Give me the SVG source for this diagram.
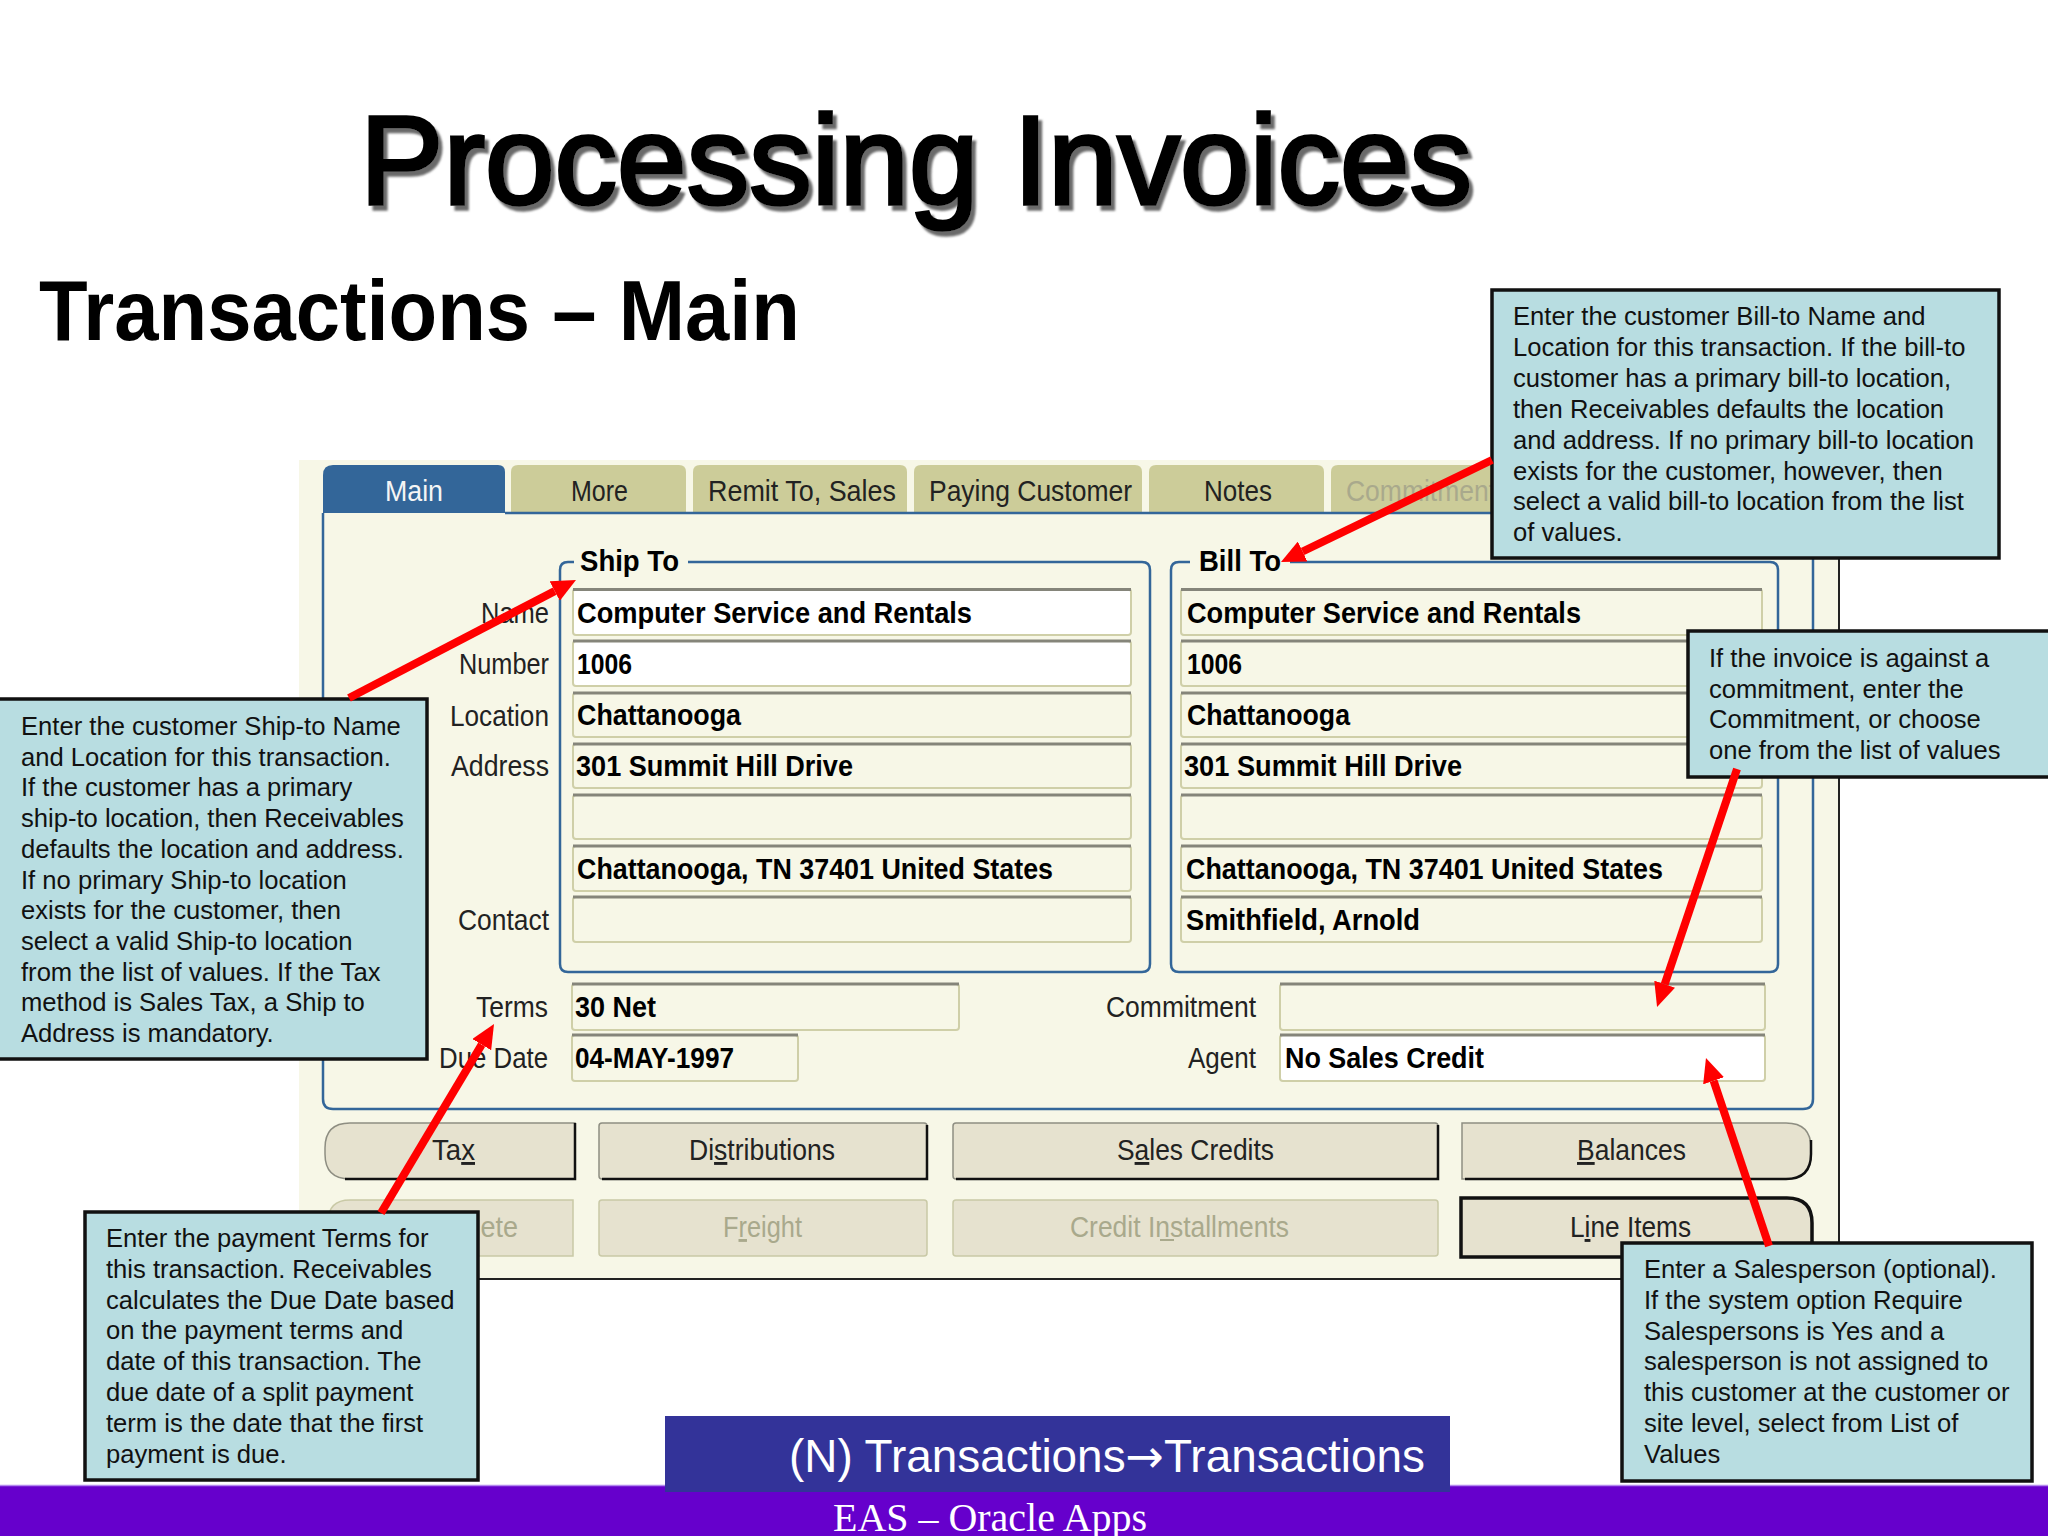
<svg xmlns="http://www.w3.org/2000/svg" width="2048" height="1536" viewBox="0 0 2048 1536">
<style>
text{font-family:"Liberation Sans",Arial,sans-serif}
.note rect{fill:#b8dde1;stroke:#111;stroke-width:3.5}
.note text{font-size:25.6px;fill:#111}
.lbl{font-size:29px;fill:#222;font-weight:normal}
.val{font-size:29px;fill:#000;font-weight:bold}
.dis{font-size:29px;fill:#a9a98c}
.tab{fill:#cccc99}
.fld{fill:#f7f7e7;stroke:#cfcfa8;stroke-width:2}
.fld.on{fill:#fff}
.top{stroke:#85857a;stroke-width:3}
.grp{fill:none;stroke:#336699;stroke-width:2.5}
.btn{fill:#e6e2cf;stroke:#8e8e82;stroke-width:1.5}
.btn.off{stroke:#c9c9a6}
.shd{stroke:#111;stroke-width:2.5;fill:none}
.arr{stroke:#ff0000;stroke-width:8;fill:none;marker-end:url(#ah)}
</style>
<defs>
<marker id="ah" viewBox="0 0 24 22" refX="0" refY="11" markerWidth="24" markerHeight="22" markerUnits="userSpaceOnUse" orient="auto"><path d="M0 0L24 11L0 22z" fill="#ff0000"/></marker>
<filter id="ts" x="-5%" y="-10%" width="110%" height="125%"><feDropShadow dx="4" dy="5" stdDeviation="1" flood-color="#6a6a6a"/></filter>
</defs>
<rect width="2048" height="1536" fill="#fff"/>
<g id="title"><text x="360" y="204" font-size="127" textLength="1112" lengthAdjust="spacingAndGlyphs" fill="#000" stroke="#000" stroke-width="3.5" filter="url(#ts)">Processing Invoices</text></g>
<g id="subtitle"><text x="39" y="340" font-size="85" font-weight="bold" fill="#000" textLength="761" lengthAdjust="spacingAndGlyphs">Transactions – Main</text></g>

<g id="form">
<path d="M299 460H1839V1279H299z" fill="#f7f7e7"/>
<path d="M1839 460V1279H299" fill="none" stroke="#222" stroke-width="2"/>
<g id="tabs">
<path class="tab" d="M511 512V472q0-7 7-7H679q7 0 7 7V512z"/>
<path class="tab" d="M693 512V472q0-7 7-7H900q7 0 7 7V512z"/>
<path class="tab" d="M914 512V472q0-7 7-7H1135q7 0 7 7V512z"/>
<path class="tab" d="M1149 512V472q0-7 7-7H1317q7 0 7 7V512z"/>
<path class="tab" d="M1331 512V472q0-7 7-7H1500V512z"/>
<path d="M323 513V475q0-10 10-10H498q7 0 7 7V513z" fill="#336699"/>
<text x="385" y="501" font-size="29" fill="#f5f5f5" textLength="58" lengthAdjust="spacingAndGlyphs">Main</text>
<text class="lbl" x="571" y="501" textLength="57" lengthAdjust="spacingAndGlyphs">More</text>
<text class="lbl" x="708" y="501" textLength="188" lengthAdjust="spacingAndGlyphs">Remit To, Sales</text>
<text class="lbl" x="929" y="501" textLength="203" lengthAdjust="spacingAndGlyphs">Paying Customer</text>
<text class="lbl" x="1204" y="501" textLength="68" lengthAdjust="spacingAndGlyphs">Notes</text>
<text class="dis" x="1346" y="501" textLength="150" lengthAdjust="spacingAndGlyphs">Commitment</text>
</g>
<path class="grp" d="M323 513V1099q0 10 10 10H1803q10 0 10-10V513H505"/>

<g id="shipto">
<path class="grp" d="M574 562H568q-8 0-8 8V964q0 8 8 8H1142q8 0 8-8V570q0-8-8-8H688"/>
<text class="val" x="580" y="571" textLength="99" lengthAdjust="spacingAndGlyphs">Ship To</text>
<rect class="fld on" x="573" y="589" width="558" height="46" rx="3"/><path class="top" d="M573 589.5H1131"/>
<rect class="fld on" x="573" y="641" width="558" height="45" rx="3"/><path class="top" d="M573 641H1131"/>
<rect class="fld" x="573" y="693" width="558" height="44" rx="3"/><path class="top" d="M573 693H1131"/>
<rect class="fld" x="573" y="744" width="558" height="44" rx="3"/><path class="top" d="M573 744H1131"/>
<rect class="fld" x="573" y="795" width="558" height="44" rx="3"/><path class="top" d="M573 795H1131"/>
<rect class="fld" x="573" y="846" width="558" height="45" rx="3"/><path class="top" d="M573 846H1131"/>
<rect class="fld" x="573" y="897" width="558" height="45" rx="3"/><path class="top" d="M573 897H1131"/>
<text class="lbl" x="481" y="623" textLength="68" lengthAdjust="spacingAndGlyphs">Name</text>
<text class="lbl" x="459" y="674" textLength="90" lengthAdjust="spacingAndGlyphs">Number</text>
<text class="lbl" x="450" y="726" textLength="99" lengthAdjust="spacingAndGlyphs">Location</text>
<text class="lbl" x="451" y="776" textLength="98" lengthAdjust="spacingAndGlyphs">Address</text>
<text class="lbl" x="458" y="930" textLength="91" lengthAdjust="spacingAndGlyphs">Contact</text>
<text class="val" x="577" y="623" textLength="395" lengthAdjust="spacingAndGlyphs">Computer Service and Rentals</text>
<text class="val" x="577" y="674" textLength="55" lengthAdjust="spacingAndGlyphs">1006</text>
<text class="val" x="577" y="725" textLength="164" lengthAdjust="spacingAndGlyphs">Chattanooga</text>
<text class="val" x="576" y="776" textLength="277" lengthAdjust="spacingAndGlyphs">301 Summit Hill Drive</text>
<text class="val" x="577" y="879" textLength="476" lengthAdjust="spacingAndGlyphs">Chattanooga, TN 37401 United States</text>
</g>

<g id="billto">
<path class="grp" d="M1190 562H1179q-8 0-8 8V964q0 8 8 8H1770q8 0 8-8V570q0-8-8-8H1290"/>
<text class="val" x="1199" y="571" textLength="82" lengthAdjust="spacingAndGlyphs">Bill To</text>
<rect class="fld" x="1181" y="589" width="581" height="46" rx="3"/><path class="top" d="M1181 589.5H1762"/>
<rect class="fld" x="1181" y="641" width="581" height="45" rx="3"/><path class="top" d="M1181 641H1762"/>
<rect class="fld" x="1181" y="693" width="581" height="44" rx="3"/><path class="top" d="M1181 693H1762"/>
<rect class="fld" x="1181" y="744" width="581" height="44" rx="3"/><path class="top" d="M1181 744H1762"/>
<rect class="fld" x="1181" y="795" width="581" height="44" rx="3"/><path class="top" d="M1181 795H1762"/>
<rect class="fld" x="1181" y="846" width="581" height="45" rx="3"/><path class="top" d="M1181 846H1762"/>
<rect class="fld" x="1181" y="897" width="581" height="45" rx="3"/><path class="top" d="M1181 897H1762"/>
<text class="val" x="1187" y="623" textLength="394" lengthAdjust="spacingAndGlyphs">Computer Service and Rentals</text>
<text class="val" x="1187" y="674" textLength="55" lengthAdjust="spacingAndGlyphs">1006</text>
<text class="val" x="1187" y="725" textLength="163" lengthAdjust="spacingAndGlyphs">Chattanooga</text>
<text class="val" x="1184" y="776" textLength="278" lengthAdjust="spacingAndGlyphs">301 Summit Hill Drive</text>
<text class="val" x="1186" y="879" textLength="477" lengthAdjust="spacingAndGlyphs">Chattanooga, TN 37401 United States</text>
<text class="val" x="1186" y="930" textLength="234" lengthAdjust="spacingAndGlyphs">Smithfield, Arnold</text>
</g>

<g id="terms">
<rect class="fld" x="572" y="984" width="387" height="46" rx="3"/><path class="top" d="M572 984H959"/>
<rect class="fld" x="572" y="1035" width="226" height="46" rx="3"/><path class="top" d="M572 1035H798"/>
<rect class="fld" x="1280" y="984" width="485" height="46" rx="3"/><path class="top" d="M1280 984H1765"/>
<rect class="fld on" x="1280" y="1035" width="485" height="46" rx="3"/><path class="top" d="M1280 1035H1765"/>
<text class="lbl" x="476" y="1017" textLength="72" lengthAdjust="spacingAndGlyphs">Terms</text>
<text class="lbl" x="439" y="1068" textLength="109" lengthAdjust="spacingAndGlyphs">Due Date</text>
<text class="val" x="575" y="1017" textLength="81" lengthAdjust="spacingAndGlyphs">30 Net</text>
<text class="val" x="575" y="1068" textLength="159" lengthAdjust="spacingAndGlyphs">04-MAY-1997</text>
<text class="lbl" x="1106" y="1017" textLength="150" lengthAdjust="spacingAndGlyphs">Commitment</text>
<text class="lbl" x="1188" y="1068" textLength="68" lengthAdjust="spacingAndGlyphs">Agent</text>
<text class="val" x="1285" y="1068" textLength="199" lengthAdjust="spacingAndGlyphs">No Sales Credit</text>
</g>

<g id="buttons">
<path class="btn" d="M575 1123H350q-25 0-25 25V1154q0 25 25 25H575z"/><path class="shd" d="M345 1179H575V1123"/>
<rect class="btn" x="599" y="1123" width="328" height="56" rx="3"/><path class="shd" d="M602 1179H927V1125"/>
<rect class="btn" x="953" y="1123" width="485" height="56" rx="3"/><path class="shd" d="M956 1179H1438V1125"/>
<path class="btn" d="M1462 1123H1786q25 0 25 25V1154q0 25-25 25H1462z"/><path class="shd" d="M1465 1179H1786q25 0 25-25V1140"/>
<path class="btn off" d="M573 1200H350q-22 0-22 22V1256H573z"/>
<rect class="btn off" x="599" y="1200" width="328" height="56" rx="3"/>
<rect class="btn off" x="953" y="1200" width="485" height="56" rx="3"/>
<path d="M1461 1198H1787q25 0 25 25V1257H1461z" fill="#e6e2cf" stroke="#111" stroke-width="3.5"/>
<text class="lbl" x="432" y="1160" textLength="43" lengthAdjust="spacingAndGlyphs">Ta<tspan text-decoration="underline">x</tspan></text>
<text class="lbl" x="689" y="1160" textLength="146" lengthAdjust="spacingAndGlyphs">Di<tspan text-decoration="underline">s</tspan>tributions</text>
<text class="lbl" x="1117" y="1160" textLength="157" lengthAdjust="spacingAndGlyphs">S<tspan text-decoration="underline">a</tspan>les Credits</text>
<text class="lbl" x="1577" y="1160" textLength="109" lengthAdjust="spacingAndGlyphs"><tspan text-decoration="underline">B</tspan>alances</text>
<text class="dis" x="440" y="1237" textLength="78" lengthAdjust="spacingAndGlyphs">Delete</text>
<text class="dis" x="723" y="1237" textLength="79" lengthAdjust="spacingAndGlyphs">F<tspan text-decoration="underline">r</tspan>eight</text>
<text class="dis" x="1070" y="1237" textLength="219" lengthAdjust="spacingAndGlyphs">Credit Installments</text>
<path d="M1160 1240H1174" stroke="#a9a98c" stroke-width="2"/>
<text class="lbl" x="1570" y="1237" textLength="121" lengthAdjust="spacingAndGlyphs">L<tspan text-decoration="underline">i</tspan>ne Items</text>
</g>
</g>

<g id="footer">
<rect x="0" y="1485" width="2048" height="51" fill="#6600cc"/>
<path d="M0 1485.5H2048" stroke="#b388ee" stroke-width="1.5"/>
<text x="833" y="1531" font-size="40" fill="#fff" style="font-family:'Liberation Serif',serif" textLength="314" lengthAdjust="spacingAndGlyphs">EAS – Oracle Apps</text>
</g>
<g id="nav">
<rect x="665" y="1416" width="785" height="76" fill="#333399"/>
<text x="789" y="1472" font-size="46" fill="#fff" textLength="636" lengthAdjust="spacingAndGlyphs">(N) Transactions<tspan style="font-family:'DejaVu Sans',sans-serif">→</tspan>Transactions</text>
</g>

<g id="note-shipto" class="note"><rect x="-3" y="699" width="430" height="360"/>
<text x="21" y="735">Enter the customer Ship-to Name</text>
<text x="21" y="765.7">and Location for this transaction.</text>
<text x="21" y="796.4">If the customer has a primary</text>
<text x="21" y="827.1">ship-to location, then Receivables</text>
<text x="21" y="857.8">defaults the location and address.</text>
<text x="21" y="888.5">If no primary Ship-to location</text>
<text x="21" y="919.2">exists for the customer, then</text>
<text x="21" y="949.9">select a valid Ship-to location</text>
<text x="21" y="980.6">from the list of values. If the Tax</text>
<text x="21" y="1011.3">method is Sales Tax, a Ship to</text>
<text x="21" y="1042">Address is mandatory.</text>
</g>
<g id="note-billto" class="note"><rect x="1492" y="290" width="507" height="268"/>
<text x="1513" y="325">Enter the customer Bill-to Name and</text>
<text x="1513" y="355.9">Location for this transaction. If the bill-to</text>
<text x="1513" y="386.8">customer has a primary bill-to location,</text>
<text x="1513" y="417.7">then Receivables defaults the location</text>
<text x="1513" y="448.6">and address. If no primary bill-to location</text>
<text x="1513" y="479.5">exists for the customer, however, then</text>
<text x="1513" y="510.4">select a valid bill-to location from the list</text>
<text x="1513" y="541.3">of values.</text>
</g>
<g id="note-commitment" class="note"><rect x="1688" y="631" width="363" height="146"/>
<text x="1709" y="667">If the invoice is against a</text>
<text x="1709" y="697.7">commitment, enter the</text>
<text x="1709" y="728.4">Commitment, or choose</text>
<text x="1709" y="759">one from the list of values</text>
</g>
<g id="note-terms" class="note"><rect x="85" y="1212" width="393" height="268"/>
<text x="106" y="1247">Enter the payment Terms for</text>
<text x="106" y="1277.8">this transaction. Receivables</text>
<text x="106" y="1308.6">calculates the Due Date based</text>
<text x="106" y="1339.4">on the payment terms and</text>
<text x="106" y="1370.2">date of this transaction. The</text>
<text x="106" y="1401">due date of a split payment</text>
<text x="106" y="1431.8">term is the date that the first</text>
<text x="106" y="1462.6">payment is due.</text>
</g>
<g id="note-salesperson" class="note"><rect x="1622" y="1243" width="410" height="238"/>
<text x="1644" y="1278">Enter a Salesperson (optional).</text>
<text x="1644" y="1308.8">If the system option Require</text>
<text x="1644" y="1339.6">Salespersons is Yes and a</text>
<text x="1644" y="1370.4">salesperson is not assigned to</text>
<text x="1644" y="1401.2">this customer at the customer or</text>
<text x="1644" y="1432">site level, select from List of</text>
<text x="1644" y="1462.6">Values</text>
</g>

<g id="connectors">
<path class="arr" d="M349 698L554.7 591.1"/>
<path class="arr" d="M1492 460L1302.6 551.5"/>
<path class="arr" d="M1737 769L1664.7 984.2"/>
<path class="arr" d="M381 1213L481.7 1044.6"/>
<path class="arr" d="M1769 1246L1713.6 1080.8"/>
</g>
</svg>
